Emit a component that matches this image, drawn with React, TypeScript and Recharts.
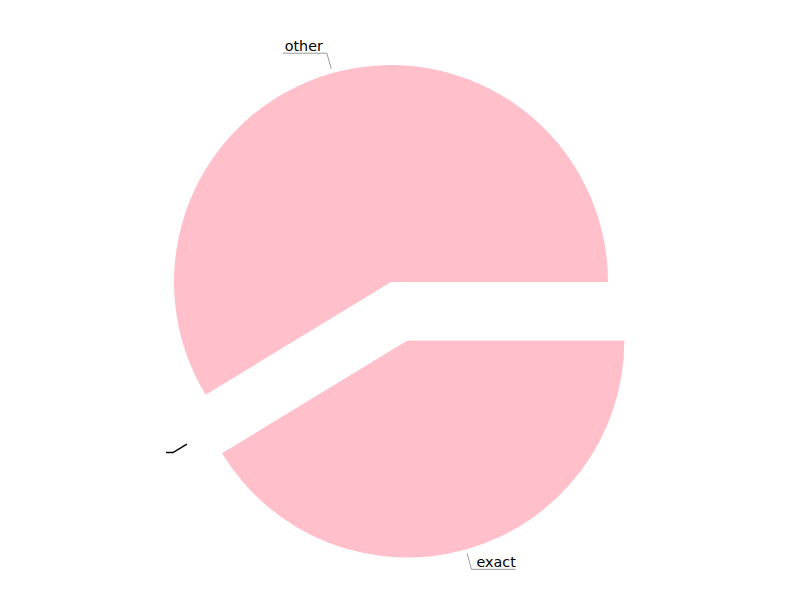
import React from "react";
import { PieChart, Pie, Cell } from "recharts";

const labels = ["other", "", "exact"];
const values = [58.7, 0, 41.3];
const explodeIndex = 2;

const data = labels.map((name, i) => ({ name, value: values[i] }));

const W = 800;
const H = 600;
const CX = 391;
const CY = 282;
const R = 217;
const EXPLODE = 0.28;
const PINK = "#ffc0cb";

const total = values.reduce((a, b) => a + b, 0);
const angleOf = (idx: number) => {
  let s = 0;
  for (let i = 0; i < idx; i++) s += values[i];
  return ((s + values[idx] / 2) / total) * 360;
};
const RAD = Math.PI / 180;
const exMid = angleOf(explodeIndex);
const exCx = CX + EXPLODE * R * Math.cos(-exMid * RAD);
const exCy = CY + EXPLODE * R * Math.sin(-exMid * RAD);

const makeLabel = (only: number, color: string, width: number) => (props: any) => {
  const { cx, cy, midAngle, outerRadius, index } = props;
  if (index !== only) return null;
  const name = labels[index];
  const c = Math.cos(-midAngle * RAD);
  const s = Math.sin(-midAngle * RAD);
  const r0 = outerRadius * 1.02;
  const r1 = outerRadius * 1.095;
  const x0 = cx + r0 * c;
  const y0 = cy + r0 * s;
  const x1 = cx + r1 * c;
  const y1 = cy + r1 * s;
  const right = c >= 0;
  const len = name ? 44 : 7;
  const x2 = right ? x1 + len : x1 - len;
  return (
    <g key={`lbl-${index}`}>
      <path
        d={`M${x0},${y0} L${x1},${y1} L${x2},${y1}`}
        fill="none"
        stroke={color}
        strokeWidth={width}
      />
      {name ? (
        <text
          x={right ? x1 + 5 : x1 - 4}
          y={y1 - 2}
          textAnchor={right ? "start" : "end"}
          fontFamily="DejaVu Sans"
          fontSize={14.3}
          fill="#000"
        >
          {name}
        </text>
      ) : null}
    </g>
  );
};

export default function App() {
  return (
    <div style={{ position: "absolute", left: 0, top: 0, width: W, height: H, background: "#fff" }}>
      <PieChart width={W} height={H} margin={{ top: 0, right: 0, bottom: 0, left: 0 }}>
        <Pie
          data={data}
          dataKey="value"
          nameKey="name"
          cx={CX}
          cy={CY}
          outerRadius={R}
          startAngle={0}
          endAngle={360}
          stroke="none"
          isAnimationActive={false}
          labelLine={false}
          label={makeLabel(0, "#808080", 0.8)}
        >
          {data.map((d, i) => (
            <Cell key={i} fill={i === 0 ? PINK : "transparent"} />
          ))}
        </Pie>
        <Pie
          data={data}
          dataKey="value"
          nameKey="name"
          cx={CX - 15}
          cy={CY + 47}
          outerRadius={R}
          startAngle={0}
          endAngle={360}
          stroke="none"
          isAnimationActive={false}
          labelLine={false}
          label={makeLabel(1, "#000", 1.5)}
        >
          {data.map((d, i) => (
            <Cell key={i} fill="transparent" />
          ))}
        </Pie>
        <Pie
          data={data}
          dataKey="value"
          nameKey="name"
          cx={exCx}
          cy={exCy}
          outerRadius={R}
          startAngle={0}
          endAngle={360}
          stroke="none"
          isAnimationActive={false}
          labelLine={false}
          label={makeLabel(explodeIndex, "#808080", 0.8)}
        >
          {data.map((d, i) => (
            <Cell key={i} fill={i === explodeIndex ? PINK : "transparent"} />
          ))}
        </Pie>
      </PieChart>
    </div>
  );
}
